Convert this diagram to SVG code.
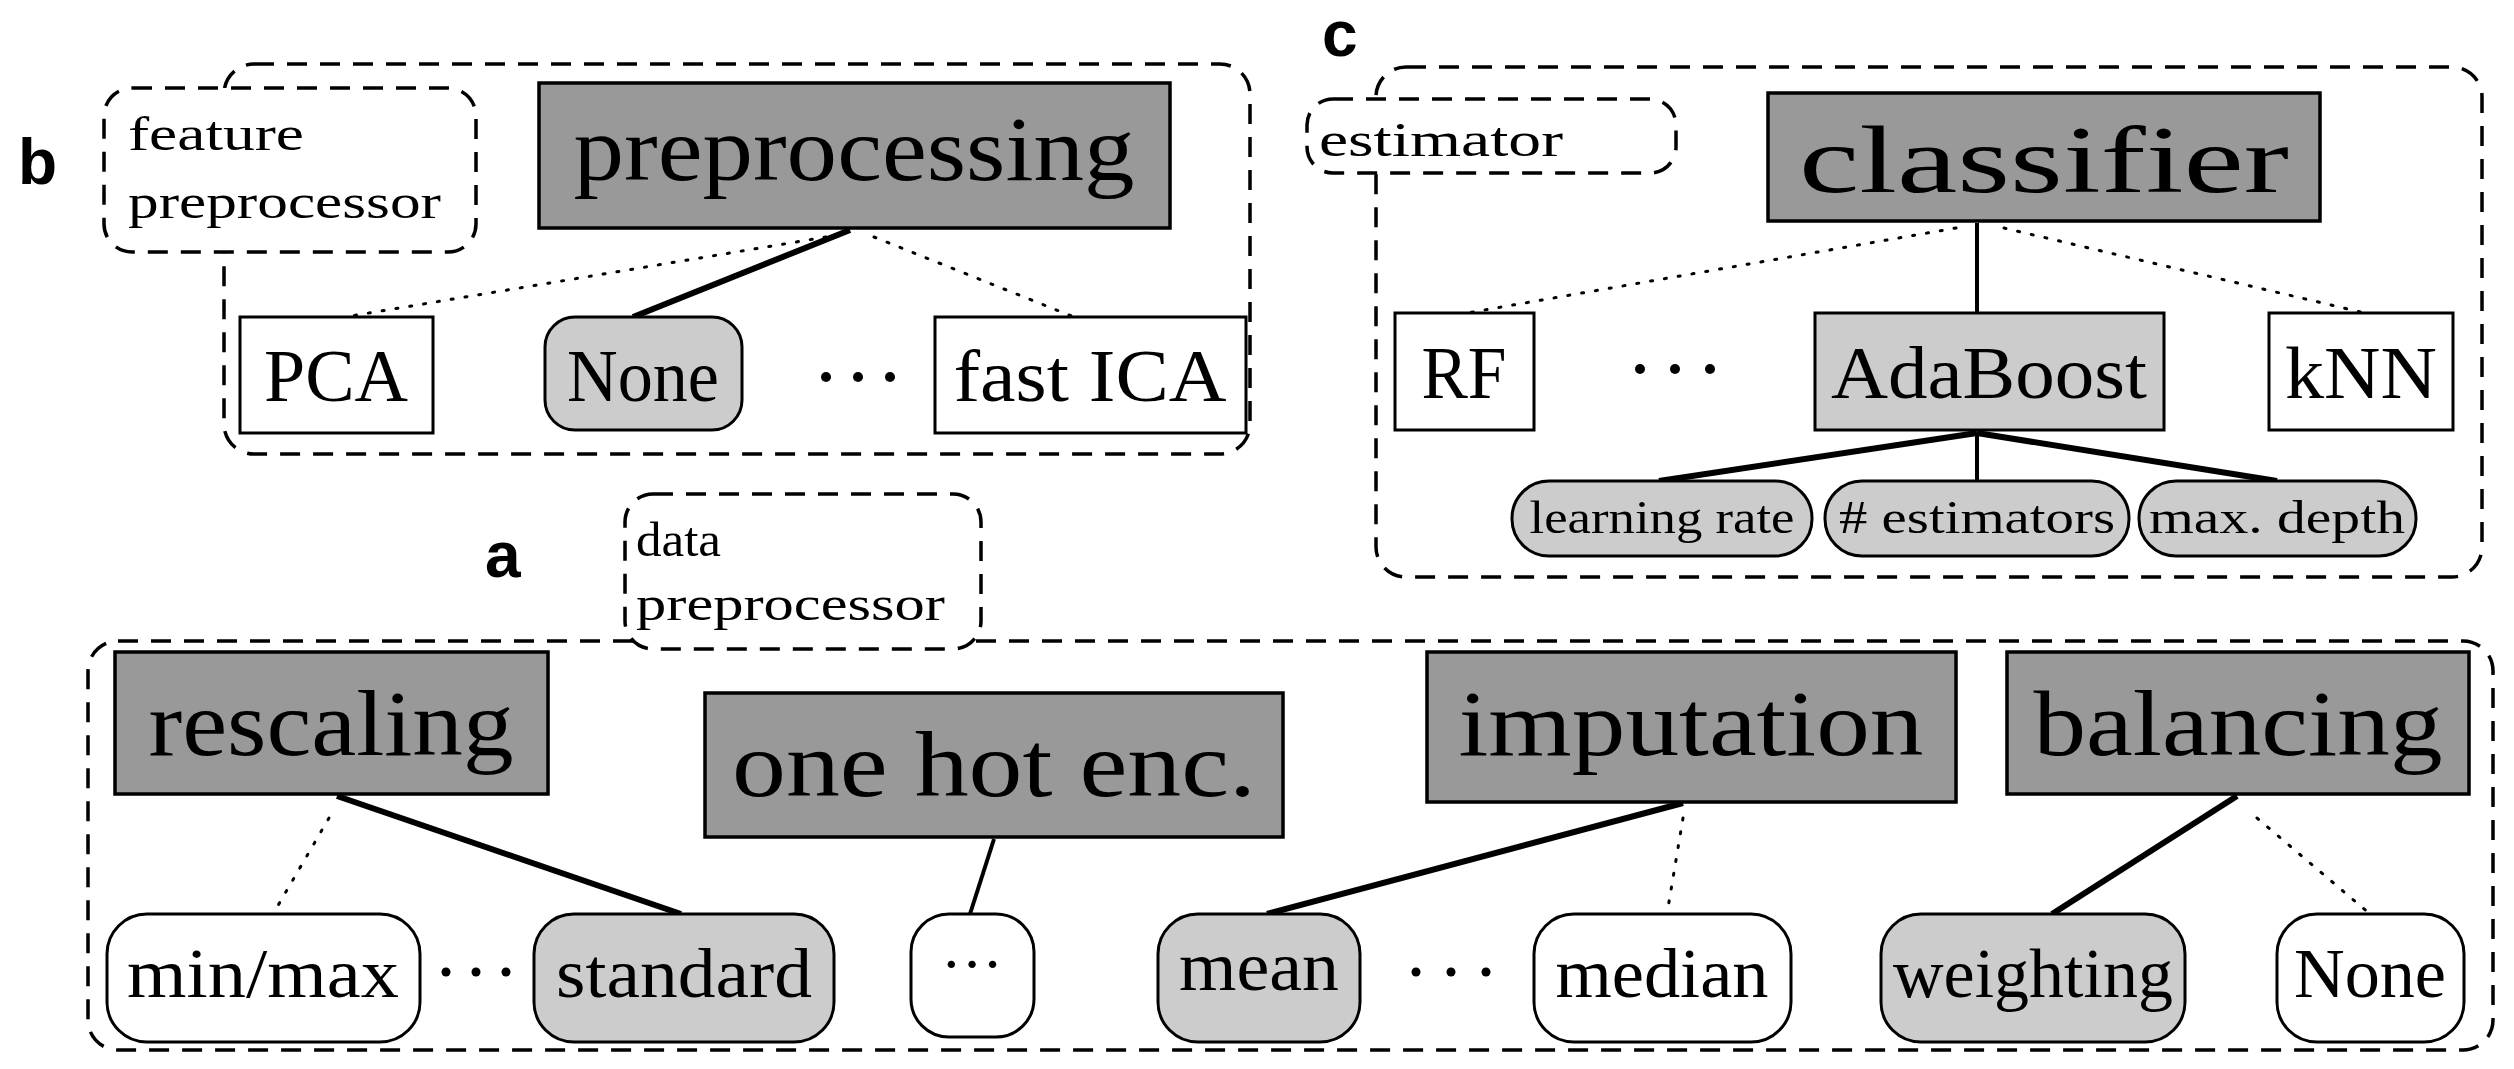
<svg xmlns="http://www.w3.org/2000/svg" width="2514" height="1069" viewBox="0 0 2514 1069">
<style>
.dash{stroke:#000;stroke-width:3.5;stroke-dasharray:20 13}
.dk{fill:#999;stroke:#000;stroke-width:3.5}
.lt{fill:#ccc;stroke:#000;stroke-width:3}
.wh{fill:#fff;stroke:#000;stroke-width:3}
.t{font-family:"Liberation Serif",serif;text-anchor:middle;fill:#000}
.l{font-family:"Liberation Serif",serif;text-anchor:start;fill:#000;font-size:48px}
.lab{font-family:"Liberation Sans",Arial,sans-serif;font-weight:bold;font-size:64px;fill:#000}
.s{stroke:#000;stroke-width:6;fill:none}
.s2{stroke:#000;stroke-width:4;fill:none}
.d{stroke:#000;stroke-width:3;stroke-dasharray:2 12;fill:none;stroke-linecap:round}
.dot{fill:#000}
</style>
<rect width="2514" height="1069" fill="#fff"/>
<text class="lab" x="18" y="184">b</text>
<text class="lab" x="1322" y="56">c</text>
<text class="lab" x="485" y="577">a</text>
<g id="containers">
<rect class="dash" fill="none" x="224" y="64" width="1026" height="390" rx="30"/>
<rect class="dash" fill="none" x="1376" y="67" width="1106" height="510" rx="30"/>
<rect class="dash" fill="none" x="88" y="641" width="2405" height="409" rx="30"/>
</g>
<g id="feature-preprocessor"><rect x="104" y="88" width="372" height="164" rx="28" fill="#fff" class="dash"/>
<text class="l" x="128" y="150" textLength="176" lengthAdjust="spacingAndGlyphs">feature</text>
<text class="l" x="128" y="218" textLength="313" lengthAdjust="spacingAndGlyphs">preprocessor</text></g>
<g id="estimator-label"><rect x="1307" y="99" width="369" height="74" rx="26" fill="#fff" class="dash"/>
<text class="l" x="1319" y="156" textLength="244" lengthAdjust="spacingAndGlyphs">estimator</text></g>
<g id="data-preprocessor"><rect x="625" y="494" width="356" height="155" rx="28" fill="#fff" class="dash"/>
<text class="l" x="636" y="556" textLength="85" lengthAdjust="spacingAndGlyphs">data</text>
<text class="l" x="636" y="620" textLength="309" lengthAdjust="spacingAndGlyphs">preprocessor</text></g>
<g id="connectors">
<line class="s" x1="850" y1="230" x2="633" y2="317"/>
<line class="d" x1="826" y1="237" x2="345" y2="317"/>
<line class="d" x1="874" y1="237" x2="1074" y2="317"/>
<line class="s2" x1="1977" y1="223" x2="1977" y2="313"/>
<line class="d" x1="1956" y1="228" x2="1467" y2="313"/>
<line class="d" x1="2004" y1="228" x2="2365" y2="313"/>
<line class="s" x1="1977" y1="433" x2="1659" y2="481"/>
<line class="s2" x1="1977" y1="433" x2="1977" y2="481"/>
<line class="s" x1="1977" y1="433" x2="2277" y2="481"/>
<line class="s" x1="337" y1="796" x2="681" y2="914"/>
<line class="d" x1="329" y1="818" x2="273" y2="914"/>
<line class="s2" x1="994" y1="839" x2="970" y2="914"/>
<line class="s" x1="1683" y1="803" x2="1267" y2="914"/>
<line class="d" x1="1683" y1="818" x2="1667" y2="914"/>
<line class="s" x1="2237" y1="796" x2="2052" y2="914"/>
<line class="d" x1="2257" y1="818" x2="2370" y2="914"/>
</g>
<g id="preprocessing"><rect class="dk" x="539" y="83" width="631" height="145"/><text class="t" x="854" y="180" font-size="92" textLength="561" lengthAdjust="spacingAndGlyphs">preprocessing</text></g>
<g id="pca"><rect class="wh" x="240" y="317" width="193" height="116"/><text class="t" x="336" y="401" font-size="74" textLength="144" lengthAdjust="spacingAndGlyphs">PCA</text></g>
<g id="none-b"><rect class="lt" x="545" y="317" width="197" height="113" rx="30"/><text class="t" x="643" y="401" font-size="74" textLength="152" lengthAdjust="spacingAndGlyphs">None</text></g>
<g id="dots-b"><circle class="dot" cx="826" cy="377" r="5"/><circle class="dot" cx="858" cy="377" r="5"/><circle class="dot" cx="890" cy="377" r="5"/></g>
<g id="fastica"><rect class="wh" x="935" y="317" width="311" height="116"/><text class="t" x="1090" y="401" font-size="74" textLength="273" lengthAdjust="spacingAndGlyphs">fast ICA</text></g>
<g id="classifier"><rect class="dk" x="1768" y="93" width="552" height="128"/><text class="t" x="2044" y="192" font-size="96" textLength="490" lengthAdjust="spacingAndGlyphs">classifier</text></g>
<g id="rf"><rect class="wh" x="1395" y="313" width="139" height="117"/><text class="t" x="1464" y="398" font-size="74" textLength="85" lengthAdjust="spacingAndGlyphs">RF</text></g>
<g id="dots-c"><circle class="dot" cx="1640" cy="369" r="5"/><circle class="dot" cx="1675" cy="369" r="5"/><circle class="dot" cx="1710" cy="369" r="5"/></g>
<g id="adaboost"><rect class="lt" x="1815" y="313" width="349" height="117"/><text class="t" x="1989" y="398" font-size="74" textLength="316" lengthAdjust="spacingAndGlyphs">AdaBoost</text></g>
<g id="knn"><rect class="wh" x="2269" y="313" width="184" height="117"/><text class="t" x="2361" y="398" font-size="74" textLength="152" lengthAdjust="spacingAndGlyphs">kNN</text></g>
<g id="lr"><rect class="lt" x="1512" y="481" width="300" height="75" rx="37"/><text class="t" x="1662" y="533" font-size="46" textLength="265" lengthAdjust="spacingAndGlyphs">learning rate</text></g>
<g id="nest"><rect class="lt" x="1825" y="481" width="304" height="75" rx="37"/><text class="t" x="1977" y="533" font-size="46" textLength="276" lengthAdjust="spacingAndGlyphs"># estimators</text></g>
<g id="maxd"><rect class="lt" x="2139" y="481" width="277" height="75" rx="37"/><text class="t" x="2277" y="533" font-size="46" textLength="256" lengthAdjust="spacingAndGlyphs">max. depth</text></g>
<g id="rescaling"><rect class="dk" x="115" y="652" width="433" height="142"/><text class="t" x="331" y="755" font-size="94" textLength="365" lengthAdjust="spacingAndGlyphs">rescaling</text></g>
<g id="onehot"><rect class="dk" x="705" y="693" width="578" height="144"/><text class="t" x="994" y="796" font-size="94" textLength="524" lengthAdjust="spacingAndGlyphs">one hot enc.</text></g>
<g id="imputation"><rect class="dk" x="1427" y="652" width="529" height="150"/><text class="t" x="1691" y="755" font-size="94" textLength="465" lengthAdjust="spacingAndGlyphs">imputation</text></g>
<g id="balancing"><rect class="dk" x="2007" y="652" width="462" height="142"/><text class="t" x="2238" y="755" font-size="94" textLength="409" lengthAdjust="spacingAndGlyphs">balancing</text></g>
<g id="minmax"><rect class="wh" x="107" y="914" width="313" height="128" rx="40"/><text class="t" x="263" y="997" font-size="70" textLength="272" lengthAdjust="spacingAndGlyphs">min/max</text></g>
<g id="dots-a1"><circle class="dot" cx="446" cy="972" r="4.5"/><circle class="dot" cx="476" cy="972" r="4.5"/><circle class="dot" cx="506" cy="972" r="4.5"/></g>
<g id="standard"><rect class="lt" x="534" y="914" width="300" height="128" rx="40"/><text class="t" x="684" y="997" font-size="70" textLength="256" lengthAdjust="spacingAndGlyphs">standard</text></g>
<g id="ellipsis"><rect class="wh" x="911" y="914" width="123" height="123" rx="38"/><text class="t" x="972" y="985" font-size="62">···</text></g>
<g id="mean"><rect class="lt" x="1158" y="914" width="202" height="128" rx="40"/><text class="t" x="1259" y="990" font-size="70" textLength="160" lengthAdjust="spacingAndGlyphs">mean</text></g>
<g id="dots-a2"><circle class="dot" cx="1416" cy="972" r="4.5"/><circle class="dot" cx="1451" cy="972" r="4.5"/><circle class="dot" cx="1486" cy="972" r="4.5"/></g>
<g id="median"><rect class="wh" x="1534" y="914" width="257" height="128" rx="40"/><text class="t" x="1662" y="997" font-size="70" textLength="213" lengthAdjust="spacingAndGlyphs">median</text></g>
<g id="weighting"><rect class="lt" x="1881" y="914" width="304" height="128" rx="40"/><text class="t" x="2033" y="997" font-size="70" textLength="280" lengthAdjust="spacingAndGlyphs">weighting</text></g>
<g id="none-a"><rect class="wh" x="2277" y="914" width="187" height="128" rx="40"/><text class="t" x="2370" y="997" font-size="70" textLength="152" lengthAdjust="spacingAndGlyphs">None</text></g>
</svg>
